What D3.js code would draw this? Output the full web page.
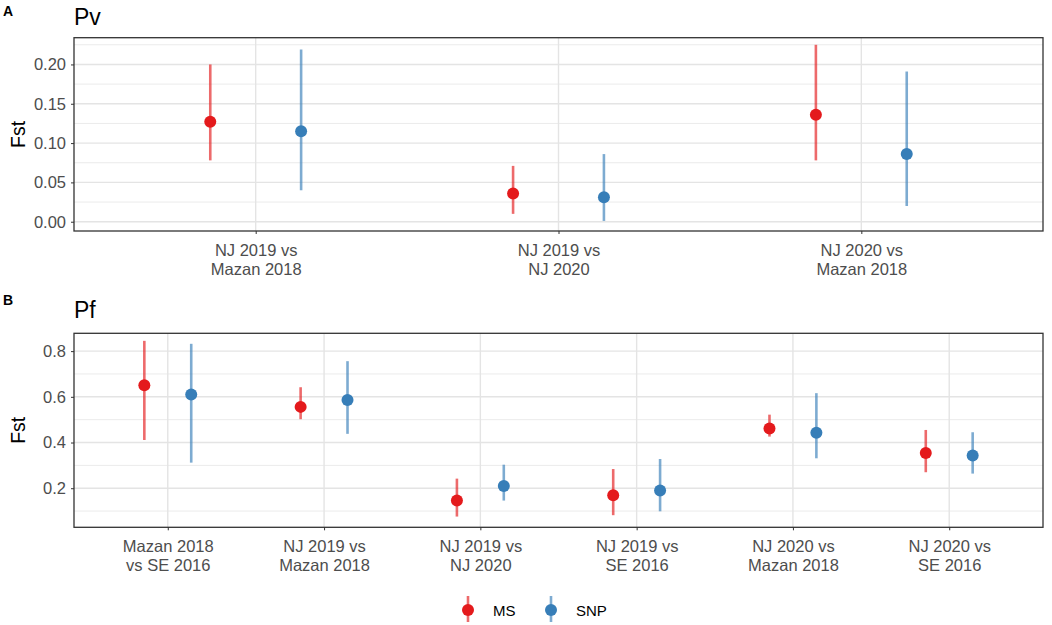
<!DOCTYPE html>
<html>
<head>
<meta charset="utf-8">
<script src="https://cdn.jsdelivr.net/npm/d3@7"></script>
<style>
  body { margin: 0; background: #fff; }
  svg { display: block; font-family: "Liberation Sans", Arial, sans-serif; }
</style>
</head>
<body>
<svg id="chart" width="1052" height="625"></svg>
<script>
// Panel A (Pv)
const pvCategories = ["NJ 2019 vs\nMazan 2018", "NJ 2019 vs\nNJ 2020", "NJ 2020 vs\nMazan 2018"];
const pvMS = [0.127, 0.036, 0.136];
const pvMSLow = [0.078, 0.010, 0.078];
const pvMSHigh = [0.200, 0.071, 0.225];
const pvSNP = [0.115, 0.031, 0.086];
const pvSNPLow = [0.040, 0.001, 0.020];
const pvSNPHigh = [0.219, 0.086, 0.191];
const pvTicks = [0.00, 0.05, 0.10, 0.15, 0.20];
const pvMinor = [0.025, 0.075, 0.125, 0.175, 0.225];

// Panel B (Pf)
const pfCategories = ["Mazan 2018\nvs SE 2016", "NJ 2019 vs\nMazan 2018", "NJ 2019 vs\nNJ 2020", "NJ 2019 vs\nSE 2016", "NJ 2020 vs\nMazan 2018", "NJ 2020 vs\nSE 2016"];
const pfMS = [0.651, 0.556, 0.146, 0.169, 0.461, 0.354];
const pfMSLow = [0.411, 0.502, 0.076, 0.082, 0.426, 0.270];
const pfMSHigh = [0.845, 0.642, 0.242, 0.284, 0.522, 0.455];
const pfSNP = [0.610, 0.586, 0.210, 0.190, 0.443, 0.343];
const pfSNPLow = [0.312, 0.438, 0.146, 0.099, 0.331, 0.264];
const pfSNPHigh = [0.832, 0.756, 0.303, 0.328, 0.616, 0.445];
const pfTicks = [0.2, 0.4, 0.6, 0.8];
const pfMinor = [0.1, 0.3, 0.5, 0.7];

const seriesNames = ["MS", "SNP"];
const seriesColors = {"MS": "#E41A1C", "SNP": "#377EB8"};

const svg = d3.select("#chart");
const marginLeft = 74, marginRight = 1043;

function drawPanel(opts) {
    const {tag, title, tagY, titleY, top, bottom, domain, ticks, minor, categories, ms, msLow, msHigh, snp, snpLow, snpHigh} = opts;

    const x = d3.scalePoint().domain(categories).range([marginLeft, marginRight]).padding(0.6);
    const y = d3.scaleLinear().domain(domain).range([bottom, top]);
    const dodge = x.step() * 0.15;

    const g = svg.append("g");

    // grid
    g.selectAll(".minor").data(minor).enter().append("line")
        .attr("x1", marginLeft).attr("x2", marginRight)
        .attr("y1", d => y(d)).attr("y2", d => y(d))
        .attr("stroke", "#ebebeb").attr("stroke-width", 1);
    g.selectAll(".major").data(ticks).enter().append("line")
        .attr("x1", marginLeft).attr("x2", marginRight)
        .attr("y1", d => y(d)).attr("y2", d => y(d))
        .attr("stroke", "#e4e4e4").attr("stroke-width", 1.4);
    g.selectAll(".vmajor").data(categories).enter().append("line")
        .attr("x1", d => x(d)).attr("x2", d => x(d))
        .attr("y1", top).attr("y2", bottom)
        .attr("stroke", "#e4e4e4").attr("stroke-width", 1.4);

    // points + whiskers
    const rows = categories.map((c, i) => [
        {cat: c, s: "MS", v: ms[i], lo: msLow[i], hi: msHigh[i], off: -dodge},
        {cat: c, s: "SNP", v: snp[i], lo: snpLow[i], hi: snpHigh[i], off: dodge}
    ]).flat();

    g.selectAll(".whisker").data(rows).enter().append("line")
        .attr("x1", d => x(d.cat) + d.off).attr("x2", d => x(d.cat) + d.off)
        .attr("y1", d => y(d.lo)).attr("y2", d => y(d.hi))
        .attr("stroke", d => seriesColors[d.s])
        .attr("stroke-opacity", 0.65)
        .attr("stroke-width", 2.6);
    g.selectAll(".pt").data(rows).enter().append("circle")
        .attr("cx", d => x(d.cat) + d.off)
        .attr("cy", d => y(d.v))
        .attr("r", 6)
        .attr("fill", d => seriesColors[d.s]);

    // border
    g.append("rect")
        .attr("x", marginLeft).attr("y", top)
        .attr("width", marginRight - marginLeft).attr("height", bottom - top)
        .attr("fill", "none").attr("stroke", "#333").attr("stroke-width", 1.3);

    // y axis
    const yAxis = g.append("g")
        .attr("transform", `translate(${marginLeft},0)`)
        .call(d3.axisLeft(y).tickValues(ticks).tickSize(3).tickPadding(5)
            .tickFormat(d3.format(ticks[1] - ticks[0] < 0.1 ? ".2f" : ".1f")));
    yAxis.select(".domain").remove();
    yAxis.selectAll("line").attr("stroke", "#333");
    yAxis.selectAll("text").attr("fill", "#4d4d4d").style("font-size", "16.5px");

    // x axis
    const xAxis = g.append("g")
        .attr("transform", `translate(0,${bottom})`)
        .call(d3.axisBottom(x).tickSize(3).tickFormat(""));
    xAxis.select(".domain").remove();
    xAxis.selectAll("line").attr("stroke", "#333");
    xAxis.selectAll(".tick").each(function(d) {
        const t = d3.select(this).append("text")
            .attr("fill", "#4d4d4d")
            .attr("text-anchor", "middle")
            .style("font-size", "16.5px");
        d.split("\n").forEach((line, i) => {
            t.append("tspan").attr("x", 0).attr("y", 25 + i * 19).text(line);
        });
    });

    // y label
    svg.append("text")
        .attr("transform", `translate(25,${(top + bottom) / 2}) rotate(-90)`)
        .attr("text-anchor", "middle")
        .style("font-size", "19.5px")
        .attr("fill", "#000")
        .text("Fst");

    // tag and title
    svg.append("text").attr("x", 3).attr("y", tagY)
        .style("font-size", "14px").style("font-weight", "bold").text(tag);
    svg.append("text").attr("x", marginLeft).attr("y", titleY)
        .style("font-size", "23px").text(title);
}

drawPanel({tag: "A", title: "Pv", tagY: 16, titleY: 25, top: 37.7, bottom: 231,
    domain: [-0.0118, 0.234], ticks: pvTicks, minor: pvMinor, categories: pvCategories,
    ms: pvMS, msLow: pvMSLow, msHigh: pvMSHigh, snp: pvSNP, snpLow: pvSNPLow, snpHigh: pvSNPHigh});

drawPanel({tag: "B", title: "Pf", tagY: 305, titleY: 318, top: 333.3, bottom: 527.3,
    domain: [0.029, 0.878], ticks: pfTicks, minor: pfMinor, categories: pfCategories,
    ms: pfMS, msLow: pfMSLow, msHigh: pfMSHigh, snp: pfSNP, snpLow: pfSNPLow, snpHigh: pfSNPHigh});

// legend
const legendX = {"MS": 468, "SNP": 551};
const legend = svg.append("g").selectAll("g").data(seriesNames).enter().append("g")
    .attr("transform", d => `translate(${legendX[d]},610)`);
legend.append("line").attr("y1", -14).attr("y2", 12)
    .attr("stroke", d => seriesColors[d]).attr("stroke-opacity", 0.65).attr("stroke-width", 2.6);
legend.append("circle").attr("r", 6).attr("fill", d => seriesColors[d]);
legend.append("text").attr("x", 25).attr("y", 5.5)
    .style("font-size", "15px").text(d => d);
</script>
</body>
</html>
